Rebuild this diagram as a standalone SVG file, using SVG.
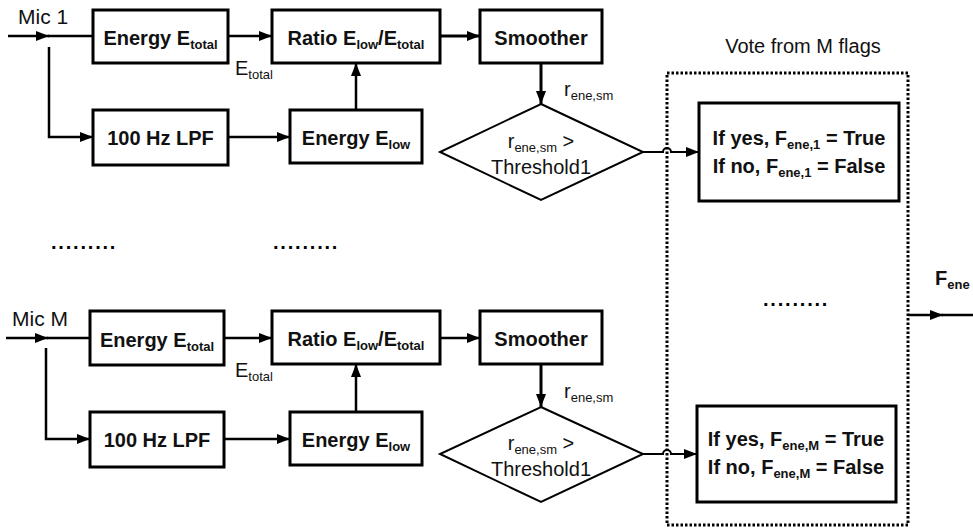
<svg xmlns="http://www.w3.org/2000/svg" width="973" height="529" viewBox="0 0 973 529">
<style>
.box{fill:#fff;stroke:#000;stroke-width:3}
.dia{fill:#fff;stroke:#000;stroke-width:2}
.ln{fill:none;stroke:#000;stroke-width:2.5}
.thin{fill:none;stroke:#000;stroke-width:2}
.b{font-family:"Liberation Sans",Arial,sans-serif;font-weight:bold;font-size:20px;fill:#111}
.r{font-family:"Liberation Sans",Arial,sans-serif;font-size:20px;fill:#111}
.s{font-size:13px}
.dots{font-family:"Liberation Sans",Arial,sans-serif;font-weight:bold;font-size:20px;letter-spacing:1.8px;fill:#000}
</style>
<defs>
<marker id="ah" markerUnits="userSpaceOnUse" markerWidth="14" markerHeight="10" refX="13" refY="5" orient="auto">
<path d="M0,0 L13,5 L0,10 Z" fill="#000"/>
</marker>
</defs>

<!-- ===== Top chain ===== -->
<text class="r" x="18" y="24" style="font-size:21px">Mic 1</text>
<g id="energy_total_1"><rect class="box" x="93" y="10" width="135" height="53"/>
<text class="b" x="160.5" y="45" text-anchor="middle">Energy E<tspan class="s" dy="4">total</tspan></text></g>
<g id="ratio_1"><rect class="box" x="272" y="10" width="168" height="53"/>
<text class="b" x="356" y="45" text-anchor="middle">Ratio E<tspan class="s" dy="4">low</tspan><tspan dy="-4">/E</tspan><tspan class="s" dy="4">total</tspan></text></g>
<g id="smoother_1"><rect class="box" x="480" y="10" width="122" height="53"/>
<text class="b" x="541" y="45" text-anchor="middle">Smoother</text></g>
<g id="lpf_1"><rect class="box" x="93" y="110" width="135" height="55"/>
<text class="b" x="160.5" y="145" text-anchor="middle">100 Hz LPF</text></g>
<g id="energy_low_1"><rect class="box" x="290" y="110" width="132" height="53"/>
<text class="b" x="356" y="145" text-anchor="middle">Energy E<tspan class="s" dy="4">low</tspan></text></g>
<g id="threshold_1"><polygon class="dia" points="541,104 643,152 541,200 440,152"/>
<text class="r" x="541" y="148" text-anchor="middle">r<tspan class="s" dy="4">ene,sm</tspan><tspan dy="-4"> &gt;</tspan></text>
<text class="r" x="541" y="174" text-anchor="middle">Threshold1</text></g>

<!-- ===== Bottom chain ===== -->
<text class="r" x="12" y="326" style="font-size:21px">Mic M</text>
<g id="energy_total_M"><rect class="box" x="90" y="311" width="134" height="54"/>
<text class="b" x="157" y="347" text-anchor="middle">Energy E<tspan class="s" dy="4">total</tspan></text></g>
<g id="ratio_M"><rect class="box" x="272" y="311" width="168" height="53"/>
<text class="b" x="356" y="346" text-anchor="middle">Ratio E<tspan class="s" dy="4">low</tspan><tspan dy="-4">/E</tspan><tspan class="s" dy="4">total</tspan></text></g>
<g id="smoother_M"><rect class="box" x="480" y="311" width="122" height="53"/>
<text class="b" x="541" y="346" text-anchor="middle">Smoother</text></g>
<g id="lpf_M"><rect class="box" x="90" y="412" width="134" height="55"/>
<text class="b" x="157" y="447" text-anchor="middle">100 Hz LPF</text></g>
<g id="energy_low_M"><rect class="box" x="290" y="412" width="132" height="53"/>
<text class="b" x="356" y="447" text-anchor="middle">Energy E<tspan class="s" dy="4">low</tspan></text></g>
<g id="threshold_M"><polygon class="dia" points="541,407 643,454 541,502 440,454"/>
<text class="r" x="541" y="450" text-anchor="middle">r<tspan class="s" dy="4">ene,sm</tspan><tspan dy="-4"> &gt;</tspan></text>
<text class="r" x="541" y="476" text-anchor="middle">Threshold1</text></g>

<!-- ===== Vote ===== -->
<g id="vote">
<rect x="667" y="73" width="241" height="452" fill="none" stroke="#000" stroke-width="3" stroke-dasharray="2.5 2"/>
<text class="r" x="803" y="53" text-anchor="middle">Vote from M flags</text>
</g>
<g id="flag_1"><rect class="box" x="699" y="103" width="200" height="98"/>
<text class="b" x="799" y="145" text-anchor="middle">If yes, F<tspan class="s" dy="4">ene,1</tspan><tspan dy="-4"> = True</tspan></text>
<text class="b" x="799" y="173" text-anchor="middle">If no, F<tspan class="s" dy="4">ene,1</tspan><tspan dy="-4"> = False</tspan></text></g>
<g id="flag_M"><rect class="box" x="697" y="406" width="199" height="96"/>
<text class="b" x="796" y="446" text-anchor="middle">If yes, F<tspan class="s" dy="4">ene,M</tspan><tspan dy="-4"> = True</tspan></text>
<text class="b" x="796" y="474" text-anchor="middle">If no, F<tspan class="s" dy="4">ene,M</tspan><tspan dy="-4"> = False</tspan></text></g>

<!-- labels -->
<text class="r" x="235" y="75">E<tspan class="s" dy="4">total</tspan></text>
<text class="r" x="235" y="377">E<tspan class="s" dy="4">total</tspan></text>
<text class="r" x="564" y="96">r<tspan class="s" dy="4">ene,sm</tspan></text>
<text class="r" x="564" y="398">r<tspan class="s" dy="4">ene,sm</tspan></text>
<text class="b" x="935" y="285">F<tspan class="s" dy="4">ene</tspan></text>
<text class="dots" x="51" y="249">.........</text>
<text class="dots" x="273" y="249">.........</text>
<text class="dots" x="763" y="306">.........</text>

<!-- ===== Connectors ===== -->
<g id="connectors">
<path class="ln" d="M8,36 H49" marker-end="url(#ah)"/>
<path class="ln" d="M48,36 H93"/>
<path class="ln" d="M49,47 V137 H93" marker-end="url(#ah)"/>
<path class="ln" d="M228,36 H272" marker-end="url(#ah)"/>
<path class="ln" d="M440,36 H480" marker-end="url(#ah)" style="stroke-width:3"/>
<path class="ln" d="M541,63 V104" marker-end="url(#ah)" style="stroke-width:3"/>
<path class="ln" d="M228,137 H290" marker-end="url(#ah)"/>
<path class="ln" d="M356,110 V63" marker-end="url(#ah)"/>
<path class="thin" d="M643,152 H663 a4,4 0 0 1 8,0 H699" marker-end="url(#ah)"/>

<path class="ln" d="M6,338 H48" marker-end="url(#ah)"/>
<path class="ln" d="M47,338 H90"/>
<path class="ln" d="M46,348 V439 H90" marker-end="url(#ah)"/>
<path class="ln" d="M224,338 H272" marker-end="url(#ah)"/>
<path class="ln" d="M440,338 H480" marker-end="url(#ah)"/>
<path class="ln" d="M541,364 V407" marker-end="url(#ah)" style="stroke-width:3"/>
<path class="ln" d="M224,439 H290" marker-end="url(#ah)"/>
<path class="ln" d="M356,412 V364" marker-end="url(#ah)"/>
<path class="thin" d="M643,454 H663 a4,4 0 0 1 8,0 H697" marker-end="url(#ah)"/>

<path class="ln" d="M908,315 H943" marker-end="url(#ah)"/>
<path class="ln" d="M942,315 H973"/>
</g>
</svg>
